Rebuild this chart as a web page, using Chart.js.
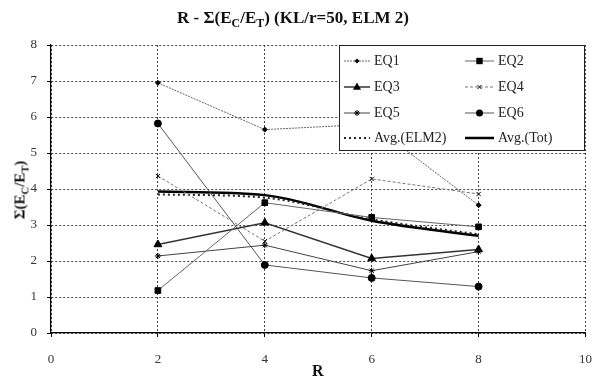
<!DOCTYPE html>
<html lang="en">
<head>
  <meta charset="UTF-8">
  <title>R - Σ(EC/ET) (KL/r=50, ELM 2)</title>
  <script src="https://cdn.jsdelivr.net/npm/chart.js"></script>
  <style>
    body {
      margin: 0;
      padding: 0;
      background: #fff;
      font-family: 'Liberation Serif', 'DejaVu Serif', serif;
    }
    .wrap {
      position: relative;
      width: 607px;
      height: 385px;
    }
    .title {
      position: absolute;
      left: 0;
      width: 586px;
      top: 8px;
      text-align: center;
      font-weight: bold;
      font-size: 17px;
      color: #111;
    }
    .ylabel {
      position: absolute;
      left: 21px;
      top: 190px;
      transform: translate(-50%, -50%) rotate(-90deg);
      font-weight: bold;
      font-size: 15px;
      white-space: nowrap;
      color: #111;
    }
    .xlabel {
      position: absolute;
      left: 312px;
      top: 362px;
      font-weight: bold;
      font-size: 16px;
      color: #111;
    }
    sub { font-size: 70%; }
  </style>
</head>
<body>
  <div class="wrap">
    <canvas id="chart" width="607" height="385"></canvas>
    <div class="title">R - Σ(E<sub>C</sub>/E<sub>T</sub>) (KL/r=50, ELM 2)</div>
    <div class="ylabel">Σ(E<sub>C</sub>/E<sub>T</sub>)</div>
    <div class="xlabel">R</div>
  </div>

  <script>
    // values
    const rValues = [2, 4, 6, 8];
    const eq1 = [6.95, 5.65, 5.8, 3.55];
    const eq2 = [1.18, 3.62, 3.21, 2.95];
    const eq3 = [2.46, 3.06, 2.07, 2.32];
    const eq4 = [4.36, 2.55, 4.28, 3.86];
    const eq5 = [2.14, 2.44, 1.73, 2.26];
    const eq6 = [5.82, 1.89, 1.53, 1.29];
    const avgElm2 = [3.85, 3.76, 3.16, 2.74];
    const avgTot = [3.93, 3.83, 3.12, 2.70];
    const xTicks = [0, 2, 4, 6, 8, 10];
    const yTicks = [0, 1, 2, 3, 4, 5, 6, 7, 8];

    const pts = arr => arr.map((v, i) => ({ x: rValues[i], y: v }));

    const series = [
      { label: 'EQ1', data: eq1, color: '#666', width: 1, dash: [2, 1], point: 'rectRot', radius: 2.5 },
      { label: 'EQ2', data: eq2, color: '#666', width: 1, dash: [], point: 'rect', radius: 4 },
      { label: 'EQ3', data: eq3, color: '#333', width: 1.5, dash: [], point: 'triangle', radius: 4.5 },
      { label: 'EQ4', data: eq4, color: '#777', width: 1, dash: [3, 2], point: 'crossRot', radius: 3 },
      { label: 'EQ5', data: eq5, color: '#444', width: 1, dash: [], point: 'star', radius: 3 },
      { label: 'EQ6', data: eq6, color: '#555', width: 1, dash: [], point: 'circle', radius: 3.5 },
      { label: 'Avg.(ELM2)', data: avgElm2, color: '#222', width: 2, dash: [2, 3], point: false, radius: 0, smooth: true },
      { label: 'Avg.(Tot)', data: avgTot, color: '#000', width: 2.5, dash: [], point: false, radius: 0, smooth: true }
    ];

    const datasets = series.map(s => ({
      label: s.label,
      data: pts(s.data),
      borderColor: s.color,
      borderWidth: s.width,
      borderDash: s.dash,
      pointStyle: s.point,
      pointRadius: s.radius,
      pointBackgroundColor: '#000',
      pointBorderColor: '#000',
      pointBorderWidth: 1,
      cubicInterpolationMode: s.smooth ? 'monotone' : 'default',
      tension: 0,
      fill: false
    }));

    function drawMarker(ctx, style, x, y, r) {
      ctx.save();
      ctx.fillStyle = '#000';
      ctx.strokeStyle = '#000';
      ctx.lineWidth = 1;
      ctx.setLineDash([]);
      ctx.beginPath();
      if (style === 'circle') {
        ctx.arc(x, y, r, 0, Math.PI * 2);
        ctx.fill();
      } else if (style === 'rect') {
        ctx.fillRect(x - r * 0.8, y - r * 0.8, r * 1.6, r * 1.6);
      } else if (style === 'rectRot') {
        ctx.moveTo(x, y - r); ctx.lineTo(x + r, y); ctx.lineTo(x, y + r); ctx.lineTo(x - r, y);
        ctx.closePath(); ctx.fill();
      } else if (style === 'triangle') {
        ctx.moveTo(x, y - r); ctx.lineTo(x + r * 0.9, y + r * 0.6); ctx.lineTo(x - r * 0.9, y + r * 0.6);
        ctx.closePath(); ctx.fill();
      } else if (style === 'crossRot') {
        ctx.moveTo(x - r * 0.7, y - r * 0.7); ctx.lineTo(x + r * 0.7, y + r * 0.7);
        ctx.moveTo(x + r * 0.7, y - r * 0.7); ctx.lineTo(x - r * 0.7, y + r * 0.7);
        ctx.stroke();
      } else if (style === 'star') {
        ctx.moveTo(x - r, y); ctx.lineTo(x + r, y);
        ctx.moveTo(x, y - r); ctx.lineTo(x, y + r);
        ctx.moveTo(x - r * 0.7, y - r * 0.7); ctx.lineTo(x + r * 0.7, y + r * 0.7);
        ctx.moveTo(x + r * 0.7, y - r * 0.7); ctx.lineTo(x - r * 0.7, y + r * 0.7);
        ctx.stroke();
      }
      ctx.restore();
    }

    // boxed legend drawn inside the plot, top right
    const boxLegend = {
      id: 'boxLegend',
      afterDatasetsDraw(chart) {
        const ctx = chart.ctx;
        const left = 339, top = 45, right = 584, bottom = 150;
        ctx.save();
        ctx.fillStyle = '#fff';
        ctx.fillRect(left, top, right - left, bottom - top);
        ctx.strokeStyle = '#222';
        ctx.lineWidth = 1;
        ctx.strokeRect(left + 0.5, top + 0.5, right - left, bottom - top);
        ctx.font = '14px "Liberation Serif", serif';
        ctx.textBaseline = 'middle';
        ctx.fillStyle = '#222';
        const cols = [{ x0: 344, x1: 370, tx: 374 }, { x0: 465, x1: 494, tx: 498 }];
        const rows = [61, 87, 113, 138];
        series.forEach((s, i) => {
          const c = cols[i % 2];
          const y = rows[Math.floor(i / 2)];
          ctx.save();
          ctx.strokeStyle = s.color;
          ctx.lineWidth = s.width;
          ctx.setLineDash(s.dash);
          ctx.beginPath();
          ctx.moveTo(c.x0, y);
          ctx.lineTo(c.x1, y);
          ctx.stroke();
          ctx.restore();
          if (s.point) drawMarker(ctx, s.point, (c.x0 + c.x1) / 2, y, s.radius);
          ctx.fillStyle = '#222';
          ctx.fillText(s.label, c.tx, y);
        });
        ctx.restore();
      }
    };

    const gridStyle = { color: '#444', lineWidth: 1, tickLength: 4, tickColor: '#000' };
    const borderStyle = { display: true, color: '#000', width: 1.2, dash: [2, 2] };

    new Chart(document.getElementById('chart'), {
      type: 'line',
      data: { datasets: datasets },
      options: {
        responsive: false,
        animation: false,
        layout: { padding: { left: 0, right: 20, top: 45, bottom: 0 } },
        plugins: {
          legend: { display: false },
          tooltip: { enabled: false }
        },
        scales: {
          x: {
            type: 'linear',
            min: 0,
            max: 10,
            afterBuildTicks: scale => { scale.ticks = xTicks.map(v => ({ value: v })); },
            afterFit: scale => { scale.height = 52; },
            grid: gridStyle,
            border: borderStyle,
            ticks: {
              color: '#333',
              padding: 15,
              font: { family: "'Liberation Serif', serif", size: 13 }
            }
          },
          y: {
            min: 0,
            max: 8,
            afterBuildTicks: scale => { scale.ticks = yTicks.map(v => ({ value: v })); },
            afterFit: scale => { scale.width = 51; },
            grid: gridStyle,
            border: borderStyle,
            ticks: {
              color: '#333',
              padding: 10,
              font: { family: "'Liberation Serif', serif", size: 13 }
            }
          }
        }
      },
      plugins: [boxLegend]
    });
  </script>
</body>
</html>
